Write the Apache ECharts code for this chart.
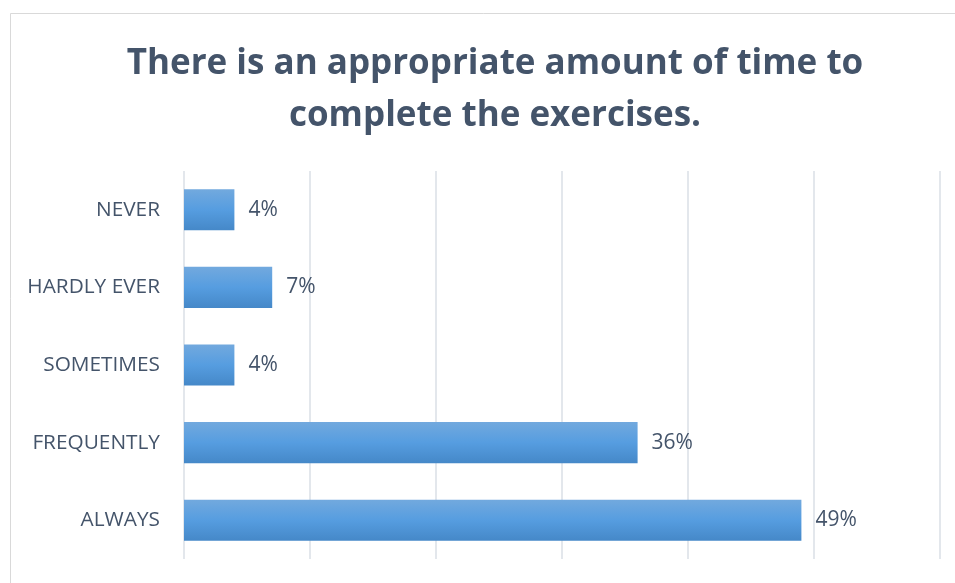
<!DOCTYPE html>
<html>
<head>
<meta charset="utf-8">
<style>
  html, body { margin: 0; padding: 0; background: #fff; }
  #chart { width: 955px; height: 583px; }
</style>
<script src="https://cdn.jsdelivr.net/npm/echarts@6/dist/echarts.min.js"></script>
</head>
<body>
<div id="chart"></div>
<script>
// Survey answers, top to bottom
const categories = ['NEVER', 'HARDLY EVER', 'SOMETIMES', 'FREQUENTLY', 'ALWAYS'];
// Share of respondents, percent
const shares = [4, 7, 4, 36, 49];
// Horizontal scale, percent
const axisTicks = [0, 10, 20, 30, 40, 50, 60];

const textColor = '#44546a';
const gridColor = '#dadfe6';

const chart = echarts.init(document.getElementById('chart'), null, { renderer: 'canvas' });

chart.setOption({
  backgroundColor: '#ffffff',
  animation: false,
  title: {
    text: 'There is an appropriate amount of time to\ncomplete the exercises.',
    left: 490,
    textAlign: 'center',
    top: 33,
    textStyle: {
      fontFamily: 'Open Sans',
      fontWeight: 'bold',
      fontSize: 35,
      lineHeight: 52,
      color: textColor
    }
  },
  graphic: [{
    type: 'rect',
    shape: { x: 10.5, y: 13.5, width: 1000, height: 1000 },
    style: { fill: 'none', stroke: '#d9d9d9', lineWidth: 1 },
    silent: true
  }],
  grid: { left: 184, right: 15, top: 171, bottom: 24, containLabel: false },
  xAxis: {
    type: 'value',
    min: axisTicks[0],
    max: axisTicks[axisTicks.length - 1],
    interval: axisTicks[1] - axisTicks[0],
    axisLabel: { show: false },
    axisLine: { show: false },
    axisTick: { show: false },
    splitLine: { show: true, lineStyle: { color: gridColor, width: 1.5 } }
  },
  yAxis: {
    type: 'category',
    data: categories,
    inverse: true,
    axisLine: { show: false },
    axisTick: { show: false },
    axisLabel: {
      margin: 24,
      fontFamily: 'Open Sans',
      fontSize: 20.8,
      color: textColor
    }
  },
  series: [{
    type: 'bar',
    data: shares,
    barCategoryGap: '47%',
    itemStyle: {
      color: new echarts.graphic.LinearGradient(0, 0, 0, 1, [
        { offset: 0, color: '#72a9de' },
        { offset: 0.5, color: '#569de0' },
        { offset: 1, color: '#4588c8' }
      ])
    },
    label: {
      show: true,
      position: 'right',
      distance: 14,
      formatter: p => p.value + '%',
      fontFamily: 'Open Sans',
      fontSize: 21,
      color: textColor
    }
  }]
});
</script>
</body>
</html>
